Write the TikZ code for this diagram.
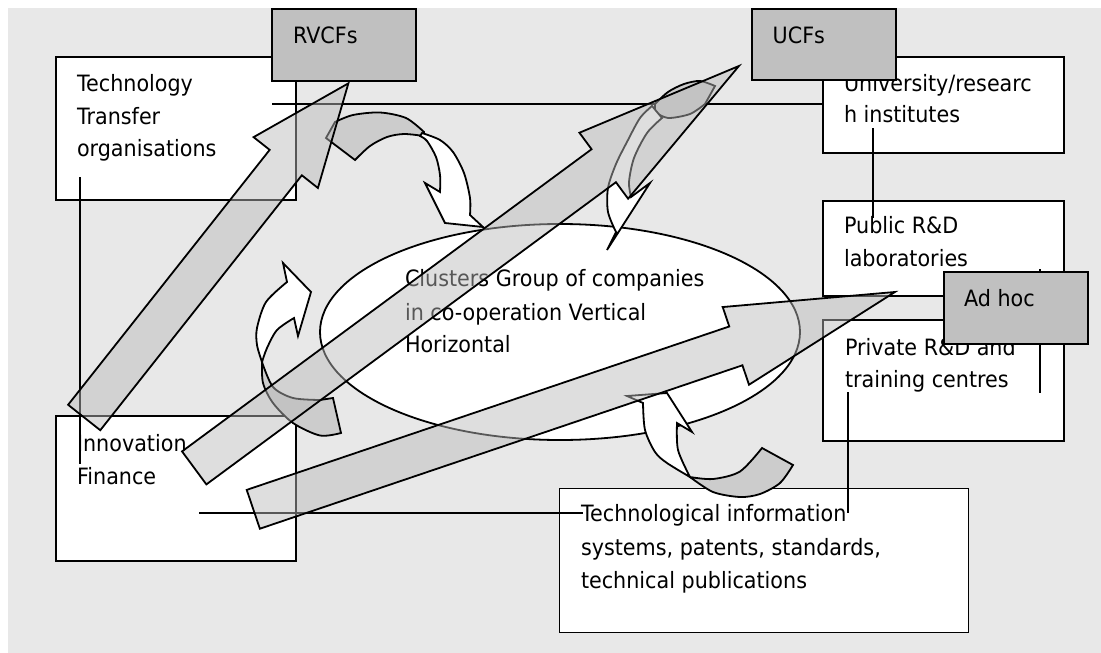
\documentclass[tikz,border=0pt]{standalone}
\usepackage{fontspec}
\setmainfont{DejaVu Sans}[FakeStretch=0.92]
\usetikzlibrary{shapes.geometric}
\definecolor{paper}{HTML}{E8E8E8}
\definecolor{tagfill}{HTML}{C0C0C0}
\definecolor{underside}{HTML}{CCCCCC}
\definecolor{bandfill}{HTML}{BABABA}
% straight block arrow: #1 tail centre, #2 angle, #3 length, #4 head length
\newcommand{\flowarrow}[4]{%
  \begin{scope}[shift={#1},rotate=#2]
    \draw[band] (0,-20.5) -- ({#3-#4},-20.5) -- ({#3-#4},-41) -- (#3,0)
      -- ({#3-#4},41) -- ({#3-#4},20.5) -- (0,20.5) -- cycle;
  \end{scope}}
\begin{document}
\begin{tikzpicture}[x=1pt,y=-1pt,
  box/.style={draw, line width=1.8pt, fill=white, inner sep=0pt, outer sep=0pt, anchor=north west},
  tag/.style={box, fill=tagfill},
  txt/.style={anchor=base west, inner sep=0pt, outer sep=0pt, font=\fontsize{22.5}{33}\selectfont},
  link/.style={line width=1.8pt},
  band/.style={draw, line width=1.8pt, fill=bandfill, fill opacity=0.47},
  curl/.style={draw, line width=1.8pt, fill=white},
  curlback/.style={curl, fill=underside}]

\useasboundingbox (0,0) rectangle (1101,653);
\fill[paper] (8,8) rectangle (1101,653);

% boxes
\node[box, minimum width=240pt, minimum height=143pt] (tt) at (56,57) {};
\node[box, minimum width=241pt, minimum height=96pt] (univ) at (823,57) {};
\node[box, minimum width=241pt, minimum height=95pt] (pub) at (823,201) {};
\node[box, minimum width=241pt, minimum height=121pt] (priv) at (823,320) {};
\node[box, minimum width=240pt, minimum height=145pt] (inno) at (56,416) {};
\node[box, minimum width=409pt, minimum height=144pt] (tech) at (559.5,488.5) {};
\node[draw, ellipse, line width=1.8pt, fill=white, minimum width=480pt,
      minimum height=216pt, inner sep=0pt] (clu) at (560,332) {};

% texts
\node[txt] (tt1) at (77,91.7) {Technology};
\node[txt] (tt2) at (77,124) {Transfer};
\node[txt] (tt3) at (77,156.7) {organisations};
\node[txt] (un1) at (844,91.7) {University/researc};
\node[txt] (un2) at (844,122.7) {h institutes};
\node[txt] (pb1) at (844,233) {Public R\&D};
\node[txt] (pb2) at (844,266.5) {laboratories};
\node[txt] (pv1) at (845,355) {Private R\&D and};
\node[txt] (pv2) at (845,387.3) {training centres};
\node[txt] (in1) at (77,451) {Innovation};
\node[txt] (in2) at (77,484) {Finance};
\node[txt] (te1) at (581,521.7) {Technological information};
\node[txt] (te2) at (581,555) {systems, patents, standards,};
\node[txt] (te3) at (581,588.3) {technical publications};
\node[txt] (cl1) at (405,286.7) {Clusters Group of companies};
\node[txt] (cl2) at (405,320) {in co-operation Vertical};
\node[txt] (cl3) at (405,352) {Horizontal};

% connecting lines
\coordinate (j1) at (272,104.3);
\draw[link] (j1) -- (j1 -| univ.west);
\coordinate (j2) at (80,177);
\coordinate (j3) at (80,464);
\draw[link] (j2) -- (j3);
\coordinate (j4) at (873,128);
\coordinate (j5) at (873,218);
\draw[link] (j4) -- (j5);
\coordinate (j6) at (1040,269);
\coordinate (j7) at (1040,393);
\draw[link] (j6) -- (j7);
\coordinate (j8) at (848,392);
\coordinate (j9) at (848,513);
\draw[link] (j8) -- (j9);
\coordinate (j10) at (199,513);
\coordinate (j11) at (583,513);
\draw[link] (j10) -- (j11);

% curved arrow, top
\draw[curlback] plot[smooth] coordinates {(335,122) (353,115) (380,112.5) (406,118) (424,132)}
  -- plot[smooth] coordinates {(424,136) (404,134) (387,137) (370,146) (355,160)}
  -- (326,138) -- cycle;
\draw[curl] plot[smooth] coordinates {(422,133) (440,140) (453,152) (464,173) (470,198) (470,215)}
  -- (483,227) -- (445,223) -- (425,183)
  -- plot[smooth] coordinates {(440,192) (440,175) (436,157) (427,141) (420,136)} -- cycle;

% curved arrow, left
\draw[curlback] plot[smooth] coordinates {(262,362) (273,387) (293,398) (320,400)}
  -- (333,398) -- (341,433)
  -- plot[smooth] coordinates {(341,433) (320,435.5) (293,423) (273,403) (263,383) (262,362)} -- cycle;
\draw[curl] plot[smooth] coordinates {(262,362) (257,345) (257,328) (266,302) (287,282)}
  -- (283,263) -- (311,292) -- (298,336)
  -- plot[smooth] coordinates {(294,318) (277,330) (267,348) (262,362)} -- cycle;

% curved arrow, upper right
\draw[curlback] plot[smooth] coordinates {(655,104) (668,92) (684,84) (700,81) (715,86)}
  -- (705,104)
  -- plot[smooth] coordinates {(705,104) (690,114) (668,118) (655,112)} -- cycle;
\draw[curl] plot[smooth] coordinates {(652,106) (640,118) (628,140) (616,164) (608,188) (608,212) (616,232)}
  -- (607,250) -- (650,183)
  -- plot[smooth] coordinates {(631,197) (629,182) (634,158) (647,133) (662,118)} -- cycle;

% curved arrow, bottom
\draw[curlback] plot[smooth] coordinates {(690,477) (713,479) (740,471.5) (762,448)}
  -- (793,465)
  -- plot[smooth] coordinates {(793,465) (780,483) (760,494) (740,497) (713,492) (690,477)} -- cycle;
\draw[curl] plot[smooth] coordinates {(690,477) (667,463) (655,452) (645,430) (643,403)}
  -- (627,396) -- (667,393) -- (692,432)
  -- plot[smooth] coordinates {(677,423) (678,450) (690,477)} -- cycle;

% straight block arrows
\flowarrow{(84.2,417.5)}{51.67}{426}{101}
\flowarrow{(194.2,467.9)}{36.42}{677}{168}
\flowarrow{(253.3,509.3)}{18.71}{677.5}{168}

% grey tags
\node[tag, minimum width=144pt, minimum height=72pt] (rvcf) at (272,9) {};
\node[txt] (rvcft) at (293,43) {RVCFs};
\node[tag, minimum width=144pt, minimum height=71pt] (ucf) at (752,9) {};
\node[txt] (ucft) at (772.7,43) {UCFs};
\node[tag, minimum width=144pt, minimum height=72pt] (adhoc) at (944,272) {};
\node[txt] (adhoct) at (964,306.7) {Ad hoc};
\end{tikzpicture}
\end{document}
